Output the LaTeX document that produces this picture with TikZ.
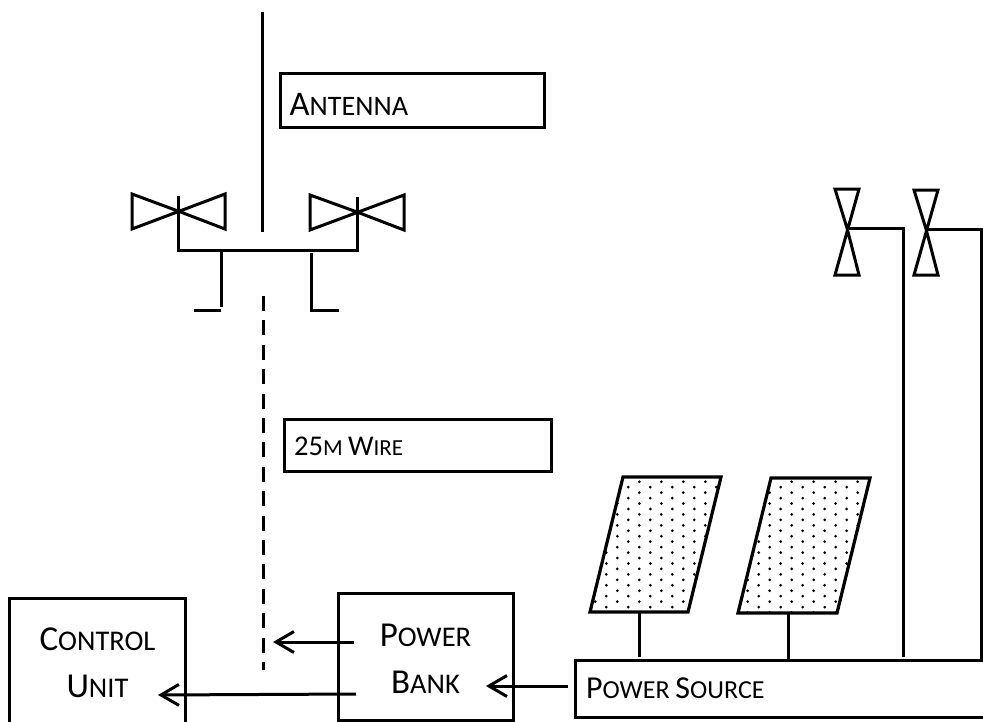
\documentclass[tikz,border=0pt]{standalone}
\usepackage{fontspec}
\setmainfont{Carlito}
\usetikzlibrary{arrows.meta}
\newcommand\BigSz{\fontsize{35}{40}\selectfont}
\newcommand\SmlSz{\fontsize{28.5}{34}\selectfont}
\newcommand\BigMd{\fontsize{32}{38}\selectfont}
\newcommand\SmlMd{\fontsize{26}{32}\selectfont}
\newcommand\BigAn{\fontsize{34.5}{40}\selectfont}
\newcommand\SmlAn{\fontsize{28.2}{34}\selectfont}
\newcommand\BigLw{\fontsize{28.6}{32}\selectfont}
\newcommand\SmlLw{\fontsize{23}{27}\selectfont}
\tikzset{
  ln/.style={line width=3pt,line join=miter,draw=black},
  boxn/.style={draw=black,line width=3pt,rectangle,inner sep=0pt,fill=none},
  lab/.style={inner sep=0pt,text=black},
  arr/.style={line width=3pt,draw=black,-{Straight Barb[length=18pt,width=21pt,line width=3pt]}},
}
\begin{document}
\begin{tikzpicture}[x=1pt,y=-1pt]
\useasboundingbox (0,0) rectangle (983,721);
% boxes
\node[boxn,minimum width=264pt,minimum height=54pt] (antbox) at (412,100) {};
\node[boxn,minimum width=267pt,minimum height=52pt] (wirebox) at (417.5,445) {};
\node[boxn,minimum width=176pt,minimum height=128pt] (ctrl) at (97,662) {};
\node[boxn,minimum width=175pt,minimum height=127pt] (bank) at (425.5,656.5) {};
\node[boxn,minimum width=412pt,minimum height=57pt] (src) at (781,688.5) {};
% labels
\node[lab,anchor=base west] (tant) at (289.5,115) {\BigAn A\SmlAn NTENNA};
\node[lab,anchor=base west] (twire) at (294,455) {\BigLw 25\SmlLw M \BigLw W\SmlLw IRE};
\node[lab,anchor=base] (tctrl) at (97.5,650.5) {\BigSz C\SmlSz ONTROL};
\node[lab,anchor=base] (tunit) at (97.5,697) {\BigSz U\SmlSz NIT};
\node[lab,anchor=base] (tpow) at (425.5,646) {\BigSz P\SmlSz OWER};
\node[lab,anchor=base] (tbnk) at (425.5,693) {\BigSz B\SmlSz ANK};
\node[lab,anchor=base west] (tsrc) at (586,698.5) {\BigMd P\SmlMd OWER \BigMd S\SmlMd OURCE};
% antenna mast
\coordinate (mastT) at (262,12);
\coordinate (mastB) at (262,232);
\draw[ln] (mastT) -- (mastB);
% left dipole
\coordinate (cL) at (178,211);
\coordinate (cR) at (357,212);
\draw[ln] (cL) -- (132,194) -- (132,229) -- (225,194) -- (225,229) -- cycle;
\draw[ln] (cR) -- (310,195) -- (310,230) -- (404,195) -- (404,230) -- cycle;
\coordinate (busL) at (178,250);
\coordinate (busR) at (357,250);
\draw[ln] (178,196) -- (busL) -- (busR) -- (357,197);
% legs
\draw[ln] (221,250) -- (221,307);
\draw[ln] (194,310) -- (221,310);
\draw[ln] (311.5,253) -- (311.5,310) -- (338.5,310);
% dashed wire
\coordinate (wireT) at (263,296);
\coordinate (wireB) at (263,670);
\draw[line width=3pt,dash pattern=on 15pt off 9.4pt] (wireT) -- (wireB);
% arrows
\coordinate (a1s) at (354,642); \coordinate (a1e) at (273,642);
\coordinate (a2s) at (356,694); \coordinate (a2e) at (158,695);
\coordinate (a3s) at (568,686); \coordinate (a3e) at (486,686);
\draw[arr] (a1s) -- (a1e);
\draw[arr] (a2s) -- (a2e);
\draw[arr] (a3s) -- (a3e);
% panels
\coordinate (p1a) at (623,477); \coordinate (p1b) at (721,477);
\coordinate (p1c) at (688,612); \coordinate (p1d) at (590,612);
\coordinate (p2a) at (771,478); \coordinate (p2b) at (870,478);
\coordinate (p2c) at (837,613); \coordinate (p2d) at (738,613);
\begin{scope}
\clip (p1a) -- (p1b) -- (p1c) -- (p1d) -- cycle;
\foreach \r in {0,...,12}{
  \foreach \k in {-3,...,5}{
    \fill ({639.3+22*\k},{481.7+10.9*\r}) circle (1.5pt);
    \fill ({628.3+22*\k},{487.15+10.9*\r}) circle (1.5pt);
  }}
\end{scope}
\begin{scope}
\clip (p2a) -- (p2b) -- (p2c) -- (p2d) -- cycle;
\foreach \r in {0,...,12}{
  \foreach \k in {-3,...,5}{
    \fill ({791.7+22*\k},{481.7+10.9*\r}) circle (1.5pt);
    \fill ({780.7+22*\k},{487.15+10.9*\r}) circle (1.5pt);
  }}
\end{scope}
\draw[ln,line width=3.2pt] (p1a) -- (p1b) -- (p1c) -- (p1d) -- cycle;
\draw[ln,line width=3.2pt] (p2a) -- (p2b) -- (p2c) -- (p2d) -- cycle;
\draw[ln] (639.5,612) -- (639.5,657);
\draw[ln] (788.5,613) -- (788.5,660);
% right dipoles
\coordinate (c3) at (847,228);
\coordinate (c4) at (926,229);
\draw[ln] (c3) -- (835,189) -- (859,189) -- (835,275) -- (859,275) -- cycle;
\draw[ln] (c4) -- (914,190) -- (938,190) -- (914,275) -- (938,275) -- cycle;
\draw[ln] (c3) -- (903.5,228) -- (903.5,657);
\draw[ln] (c4) -- (981.5,229) -- (981.5,660);
\end{tikzpicture}
\end{document}
